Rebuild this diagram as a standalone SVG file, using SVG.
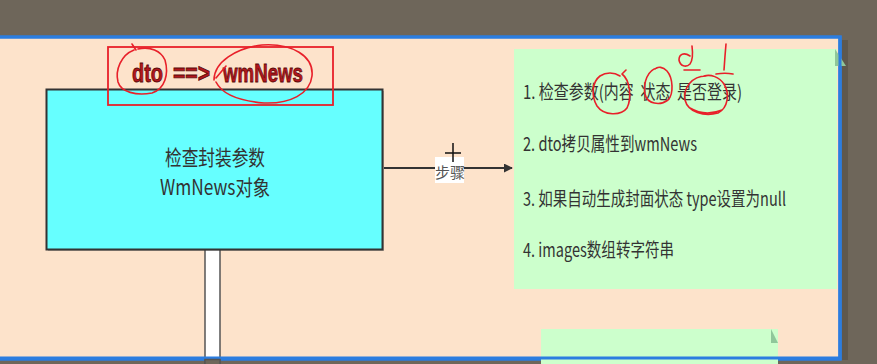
<svg xmlns="http://www.w3.org/2000/svg" width="877" height="364" viewBox="0 0 877 364">
  <style>
    .cjk { font-family: "Noto Sans CJK SC", "Liberation Sans", sans-serif; }
    .step { font-size: 19px; fill: #333333; }
    .title { font-family: "Liberation Sans", Arial, sans-serif; font-size: 26px; font-weight: bold; fill: #b3161c; stroke: #5a0a0a; stroke-width: 0.8; }
    .ink { fill: none; stroke: #e8202a; stroke-width: 1.6; stroke-linecap: round; stroke-linejoin: round; }
    .note { fill: #ccffcc; }
    .fold { fill: #8fc79a; }
  </style>
  <defs>
    <marker id="arrow" viewBox="0 0 10 10" refX="9" refY="5" markerWidth="9" markerHeight="9" markerUnits="userSpaceOnUse" orient="auto">
      <path d="M0,0 L10,5 L0,10 Z" fill="#333333"/>
    </marker>
  </defs>

  <!-- desktop behind the canvas -->
  <rect x="0" y="0" width="877" height="364" fill="#6e665a"/>
  <rect x="842" y="40" width="6" height="320" fill="#5f584d"/>

  <!-- canvas -->
  <rect x="-2" y="37" width="842" height="322" fill="#fde3cb" stroke="#2b7de0" stroke-width="3.5"/>

  <!-- lifeline below the box -->
  <g id="lifeline">
    <rect x="205" y="249" width="15" height="120" fill="#ffffff" stroke="#555555" stroke-width="1.5"/>
  </g>

  <!-- main process box -->
  <g id="box-check">
    <rect x="48" y="91" width="336" height="160" fill="#444444" opacity="0.35"/>
    <rect x="46.5" y="89.5" width="336" height="160" fill="#66ffff" stroke="#333333" stroke-width="2"/>
    <text class="cjk" x="215" y="165" font-size="21" fill="#333333" text-anchor="middle" textLength="100" lengthAdjust="spacingAndGlyphs">检查封装参数</text>
    <text class="cjk" x="215" y="195" font-size="21" fill="#333333" text-anchor="middle" textLength="110" lengthAdjust="spacingAndGlyphs">WmNews对象</text>
  </g>

  <!-- title with its red frame -->
  <g id="title">
    <rect x="108" y="47" width="225" height="58" fill="none" stroke="#e8202a" stroke-width="1.8"/>
    <text class="title" x="132" y="82" textLength="31" lengthAdjust="spacingAndGlyphs">dto</text>
    <text class="title" x="173" y="82" textLength="37" lengthAdjust="spacingAndGlyphs">==&gt;</text>
    <text class="title" x="223" y="82" textLength="80" lengthAdjust="spacingAndGlyphs">wmNews</text>
    <path class="ink" d="M134,50 C121,55 115,70 118,82 C121,92 136,96 152,93 C165,89 169,74 165,60 C161,51 150,46 138,49 M136,50 L132,44"/>
    <path class="ink" d="M214,80 C214,62 236,48 262,45 C292,43 314,56 312,76 C310,94 290,104 264,103 C240,101 222,94 216,82 M216,78 L226,66"/>
  </g>

  <!-- connector -->
  <g id="connectors">
    <line x1="384" y1="168" x2="512" y2="168" stroke="#333333" stroke-width="2" marker-end="url(#arrow)"/>
    <rect x="435" y="157" width="29" height="26" fill="#ffffff"/>
    <text class="cjk" x="450" y="178" font-size="15" fill="#555555" text-anchor="middle">步骤</text>
    <path d="M453,143 L453,162 M445,153 L461,153" stroke="#111111" stroke-width="1.5" fill="none"/>
  </g>

  <!-- steps note -->
  <g id="note-steps">
    <rect class="note" x="514" y="49" width="323" height="240"/>
    <path class="fold" d="M835,49 L846,66 L835,66 Z"/>
    <text class="cjk step" x="523" y="99" xml:space="preserve" textLength="219" lengthAdjust="spacingAndGlyphs">1. 检查参数(内容  状态  是否登录)</text>
    <text class="cjk step" x="523" y="151" textLength="174" lengthAdjust="spacingAndGlyphs">2. dto拷贝属性到wmNews</text>
    <text class="cjk step" x="523" y="206" textLength="263" lengthAdjust="spacingAndGlyphs">3. 如果自动生成封面状态 type设置为null</text>
    <text class="cjk step" x="523" y="257" textLength="151" lengthAdjust="spacingAndGlyphs">4. images数组转字符串</text>
    <!-- pen marks -->
    <path class="ink" d="M622,74 C630,80 632,98 627,108 C621,116 604,116 597,106 C591,96 592,82 600,76 C606,72 614,72 620,76 M622,74 L626,70"/>
    <path class="ink" d="M657,68 C648,70 643,82 645,94 C647,104 660,106 668,100 C674,94 673,78 667,71 C663,67 658,66 655,69"/>
    <path class="ink" d="M706,76 C692,76 683,88 685,100 C688,112 704,117 718,113 C728,108 730,94 724,84 C719,77 711,74 704,76 M690,108 C700,114 712,114 722,110"/>
    <path class="ink" d="M692,46 C693,54 693,60 690,64 C686,68 680,66 679,60 C679,54 684,52 690,56 M684,70 L700,70"/>
    <path class="ink" d="M726,44 L725,56 L724,70 M716,74 C722,73 728,73 733,74"/>
  </g>

  <!-- second note, mostly off the canvas -->
  <g id="note-lower">
    <rect class="note" x="541" y="329" width="237" height="40"/>
    <path class="fold" d="M771,329 L778,343 L771,343 Z"/>
  </g>

  <!-- canvas frame drawn over the notes -->
  <line x1="-2" y1="358" x2="841" y2="358" stroke="#2b7de0" stroke-width="3"/>
  <line x1="840" y1="36" x2="840" y2="360" stroke="#2b7de0" stroke-width="3"/>
  <rect x="205" y="359.5" width="15" height="6" fill="#6e665a" stroke="#555555" stroke-width="1.5"/>
</svg>
